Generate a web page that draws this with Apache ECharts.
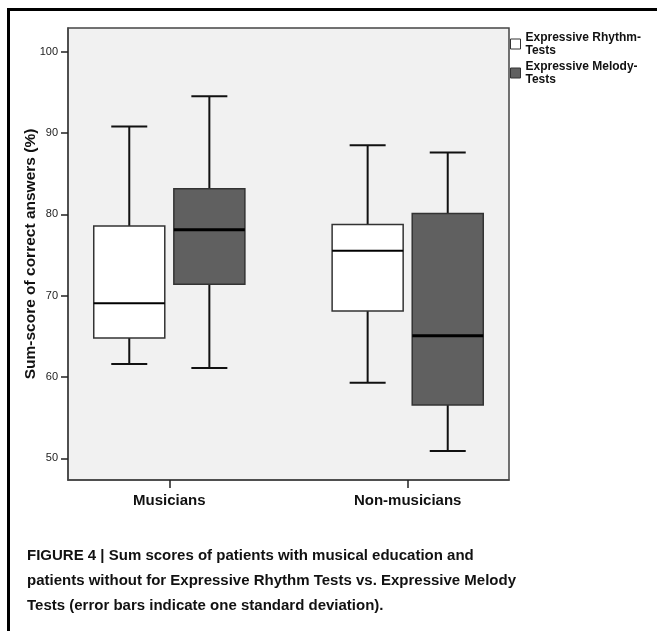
<!DOCTYPE html>
<html>
<head>
<meta charset="utf-8">
<script src="https://cdn.jsdelivr.net/npm/echarts@6/dist/echarts.min.js"></script>
<style>
  html, body { margin: 0; padding: 0; background: #fff; }
  #chart { width: 657px; height: 631px; }
</style>
</head>
<body>
<div id="chart"></div>
<script>
// ---- Data ----
const categories = ['Musicians', 'Non-musicians'];
const seriesNames = ['Expressive Rhythm-\nTests', 'Expressive Melody-\nTests'];
// [lower whisker, box bottom, median, box top, upper whisker]
const rhythmStats = [
  [61.6, 64.8, 69.05, 78.55, 90.8],
  [59.3, 68.1, 75.5, 78.75, 88.5]
];
const melodyStats = [
  [61.1, 71.4, 78.1, 83.15, 94.5],
  [50.9, 56.55, 65.05, 80.1, 87.6]
];
const yTicks = [50, 60, 70, 80, 90, 100];
const captionLines = [
  'FIGURE 4 | Sum scores of patients with musical education and',
  'patients without for Expressive Rhythm Tests vs. Expressive Melody',
  'Tests (error bars indicate one standard deviation).'
];

// ---- Styling ----
const FONT = '"Liberation Sans", Arial, Helvetica, sans-serif';
const boxColors = ['#ffffff', '#606060'];
const groupOffset = 0.168;   // in category units
const boxHalf = 0.149;
const capHalf = 0.0755;

function makeRender(seriesIdx) {
  return function (params, api) {
    const x = api.value(0) + (seriesIdx === 0 ? -groupOffset : groupOffset);
    const lo = api.value(1), q1 = api.value(2), med = api.value(3), q3 = api.value(4), hi = api.value(5);
    const pLo = api.coord([x, lo]);
    const pQ1 = api.coord([x, q1]);
    const pMed = api.coord([x, med]);
    const pQ3 = api.coord([x, q3]);
    const pHi = api.coord([x, hi]);
    const left = api.coord([x - boxHalf, q3])[0];
    const right = api.coord([x + boxHalf, q3])[0];
    const capL = api.coord([x - capHalf, hi])[0];
    const capR = api.coord([x + capHalf, hi])[0];
    const lineStyle = { stroke: '#111', lineWidth: 2 };
    return {
      type: 'group',
      children: [
        { type: 'line', shape: { x1: pHi[0], y1: pHi[1], x2: pQ3[0], y2: pQ3[1] }, style: lineStyle },
        { type: 'line', shape: { x1: pQ1[0], y1: pQ1[1], x2: pLo[0], y2: pLo[1] }, style: lineStyle },
        { type: 'line', shape: { x1: capL, y1: pHi[1], x2: capR, y2: pHi[1] }, style: lineStyle },
        { type: 'line', shape: { x1: capL, y1: pLo[1], x2: capR, y2: pLo[1] }, style: lineStyle },
        { type: 'rect', shape: { x: left, y: pQ3[1], width: right - left, height: pQ1[1] - pQ3[1] },
          style: { fill: boxColors[seriesIdx], stroke: '#333', lineWidth: 1.5 } },
        { type: 'line', shape: { x1: left, y1: pMed[1], x2: right, y2: pMed[1] },
          style: { stroke: '#000', lineWidth: seriesIdx === 0 ? 2 : 3 } }
      ]
    };
  };
}

function toData(stats) {
  return stats.map((s, i) => [i].concat(s));
}

const chart = echarts.init(document.getElementById('chart'), null, { renderer: 'canvas' });
chart.setOption({
  animation: false,
  backgroundColor: '#ffffff',
  textStyle: { fontFamily: FONT },
  title: {
    text: captionLines.join('\n'),
    left: 22,
    top: 538,
    textStyle: { fontFamily: FONT, fontSize: 15, fontWeight: 'bold', color: '#111', lineHeight: 25 }
  },
  legend: {
    orient: 'vertical',
    left: 505,
    top: 26,
    itemWidth: 10,
    itemHeight: 10,
    itemGap: 3,
    selectedMode: false,
    textStyle: { fontFamily: FONT, fontSize: 12, fontWeight: 'bold', color: '#111', lineHeight: 13 },
    data: [
      { name: seriesNames[0], icon: 'rect', itemStyle: { color: boxColors[0], borderColor: '#333', borderWidth: 1 } },
      { name: seriesNames[1], icon: 'rect', itemStyle: { color: boxColors[1], borderColor: '#333', borderWidth: 1 } }
    ]
  },
  grid: {
    left: 68, top: 28, right: 148, bottom: 151,
    show: true, backgroundColor: '#f1f1f1', borderColor: '#444', borderWidth: 1.5
  },
  xAxis: {
    type: 'value',
    min: -0.425,
    max: 1.425,
    splitLine: { show: false },
    axisLine: { show: true, onZero: false, lineStyle: { color: '#444', width: 1.5 } },
    axisTick: { show: true, customValues: [0, 1], length: 8, lineStyle: { color: '#222', width: 1.5 } },
    axisLabel: {
      customValues: [0, 1],
      formatter: v => categories[Math.round(v)],
      margin: 13,
      fontFamily: FONT, fontSize: 15, fontWeight: 'bold', color: '#111'
    }
  },
  yAxis: {
    type: 'value',
    min: 47.33,
    max: 102.9,
    name: 'Sum-score of correct answers (%)',
    nameLocation: 'middle',
    nameGap: 29,
    nameMoveOverlap: false,
    nameTextStyle: { fontFamily: FONT, fontSize: 15.5, fontWeight: 'bold', color: '#111' },
    splitLine: { show: false },
    axisLine: { show: true, onZero: false, lineStyle: { color: '#444', width: 1.5 } },
    axisTick: { show: true, customValues: yTicks, length: 7, lineStyle: { color: '#222', width: 1.5 } },
    axisLabel: {
      customValues: yTicks,
      margin: 10,
      fontFamily: FONT, fontSize: 11, color: '#222'
    }
  },
  series: [
    {
      name: seriesNames[0],
      type: 'custom',
      renderItem: makeRender(0),
      encode: { x: 0, y: [1, 2, 3, 4, 5] },
      itemStyle: { color: boxColors[0] },
      data: toData(rhythmStats)
    },
    {
      name: seriesNames[1],
      type: 'custom',
      renderItem: makeRender(1),
      encode: { x: 0, y: [1, 2, 3, 4, 5] },
      itemStyle: { color: boxColors[1] },
      data: toData(melodyStats)
    }
  ],
  graphic: [
    {
      type: 'polyline',
      shape: { points: [[8.5, 631], [8.5, 9.5], [657, 9.5]] },
      style: { stroke: '#000', lineWidth: 3, fill: null }
    }
  ]
});
</script>
</body>
</html>
